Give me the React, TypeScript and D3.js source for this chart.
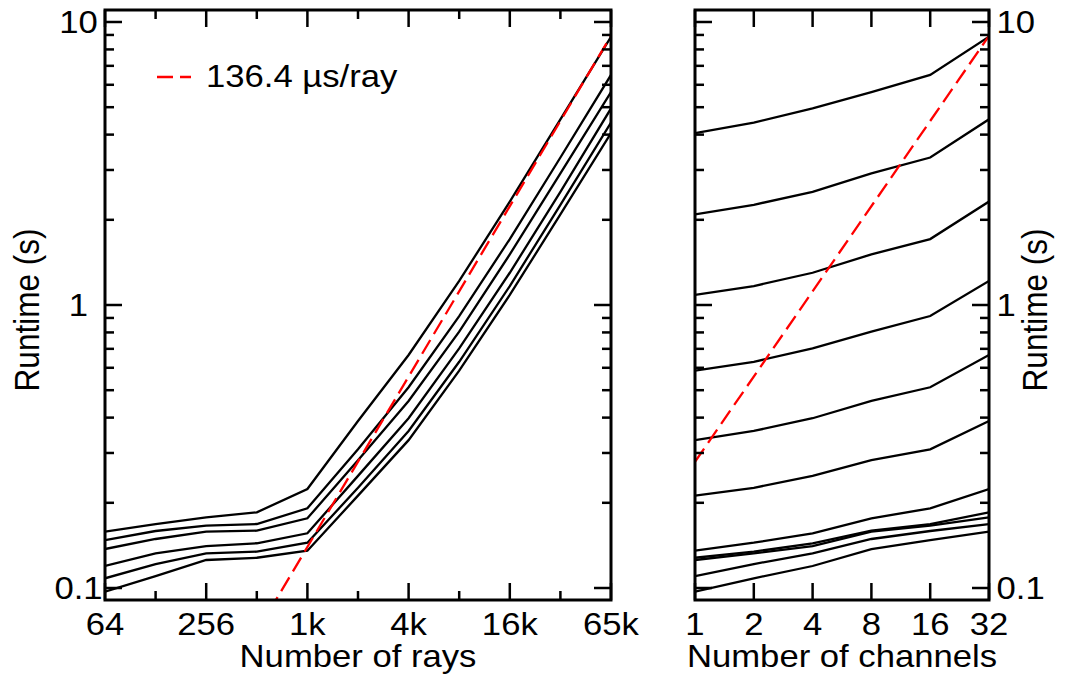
import * as d3 from "d3";

// runtime (s) per ray count (rows) and channel count (columns)
const RAYS = [64, 128, 256, 512, 1024, 2048, 4096, 8192, 16384, 32768, 65536];
const RAY_LABELS: Record<number, string> = { 64: "64", 256: "256", 1024: "1k", 4096: "4k", 16384: "16k", 65536: "65k" };
const CHANNELS = [1, 2, 4, 8, 16, 32];
const RUNTIME = [
  [0.097, 0.1082, 0.1196, 0.1373, 0.1477, 0.1581],
  [0.1102, 0.1215, 0.1326, 0.149, 0.159, 0.1683],
  [0.1256, 0.1326, 0.1407, 0.1581, 0.166, 0.1778],
  [0.1279, 0.1344, 0.1439, 0.1594, 0.1683, 0.1851],
  [0.1355, 0.1446, 0.1561, 0.1763, 0.1912, 0.2238],
  [0.212, 0.226, 0.249, 0.283, 0.309, 0.389],
  [0.333, 0.359, 0.398, 0.458, 0.512, 0.666],
  [0.586, 0.63, 0.703, 0.805, 0.914, 1.216],
  [1.085, 1.167, 1.3, 1.51, 1.71, 2.32],
  [2.09, 2.26, 2.51, 2.92, 3.32, 4.53],
  [4.05, 4.41, 4.95, 5.65, 6.5, 8.87],
];
const Y_MAJOR = [0.1, 1, 10];
const Y_LABELS = ["0.1", "1", "10"];
const FIT_RATE = 136.4e-6; // s per ray
const FIT_LABEL = "136.4 \u00b5s/ray";

const W = 1084;
const H = 676;
const TOP = 10;
const BOTTOM = 600;
const FONT = "'Liberation Sans', Arial, Helvetica, sans-serif";
const FS = 31.5;
const SX = 1.1;

const yScale = d3.scaleLog().domain([0.1, 10]).range([588, 22]);
const xRays = d3.scaleLog().base(2).domain([64, 65536]).range([105, 611]);
const xCh = d3.scaleLog().base(2).domain([1, 32]).range([695, 989]);

const yMinor: number[] = [];
[0.1, 1].forEach((d) => {
  for (let k = 2; k <= 9; k++) yMinor.push(k * d);
});

function Label({ x, y, text, anchor = "middle", rotate = false }: any) {
  return (
    <text
      transform={`translate(${x},${y}) scale(${SX},1)${rotate ? " rotate(-90)" : ""}`}
      textAnchor={anchor}
      fontFamily={FONT}
      fontSize={FS}
      fill="#000"
    >
      {text}
    </text>
  );
}

function YTicks({ x0, x1 }: { x0: number; x1: number }) {
  const out: any[] = [];
  const add = (v: number, len: number, key: string) => {
    const y = yScale(v);
    out.push(<line key={key + "l"} x1={x0} x2={x0 + len} y1={y} y2={y} />);
    out.push(<line key={key + "r"} x1={x1} x2={x1 - len} y1={y} y2={y} />);
  };
  Y_MAJOR.forEach((v, i) => add(v, 17, "M" + i));
  yMinor.forEach((v, i) => add(v, 9, "m" + i));
  return <g stroke="#000" strokeWidth={2.5}>{out}</g>;
}

export default function App() {
  const lineRays = d3
    .line<number>()
    .x((_, i) => xRays(RAYS[i]))
    .y((d) => yScale(d));
  const lineCh = d3
    .line<number>()
    .x((_, i) => xCh(CHANNELS[i]))
    .y((d) => yScale(d));

  const fitLeft = [RAYS[0], RAYS[RAYS.length - 1]];
  const fitRightPerCh = FIT_RATE * RAYS[RAYS.length - 1] / CHANNELS[CHANNELS.length - 1];
  const fitRight = [CHANNELS[0], CHANNELS[CHANNELS.length - 1]];

  const [lx0, lx1] = xRays.range();
  const [rx0, rx1] = xCh.range();

  return (
    <svg width={W} height={H} style={{ position: "absolute", left: 0, top: 0, background: "#fff" }}>
      <defs>
        <clipPath id="clipL">
          <rect x={lx0} y={TOP} width={lx1 - lx0} height={BOTTOM - TOP} />
        </clipPath>
        <clipPath id="clipR">
          <rect x={rx0} y={TOP} width={rx1 - rx0} height={BOTTOM - TOP} />
        </clipPath>
      </defs>

      {/* left panel: runtime vs rays, one line per channel count */}
      <g clipPath="url(#clipL)" fill="none">
        {CHANNELS.map((c, j) => (
          <path key={c} d={lineRays(RUNTIME.map((r) => r[j])) || ""} stroke="#000" strokeWidth={2.3} />
        ))}
        <line
          x1={xRays(fitLeft[0])}
          y1={yScale(FIT_RATE * fitLeft[0])}
          x2={xRays(fitLeft[1])}
          y2={yScale(FIT_RATE * fitLeft[1])}
          stroke="#ff0000"
          strokeWidth={2.3}
          strokeDasharray="16,7"
        />
      </g>
      <g stroke="#000" strokeWidth={2.5}>
        {RAYS.map((r) => {
          const x = xRays(r);
          const len = RAY_LABELS[r] ? 17 : 9;
          return (
            <g key={r}>
              <line x1={x} x2={x} y1={TOP} y2={TOP + len} />
              <line x1={x} x2={x} y1={BOTTOM} y2={BOTTOM - len} />
            </g>
          );
        })}
      </g>
      <YTicks x0={lx0} x1={lx1} />
      <rect x={lx0} y={TOP} width={lx1 - lx0} height={BOTTOM - TOP} fill="none" stroke="#000" strokeWidth={3} />
      {RAYS.filter((r) => RAY_LABELS[r]).map((r) => (
        <Label key={r} x={xRays(r)} y={635} text={RAY_LABELS[r]} />
      ))}
      {Y_MAJOR.map((v, i) => (
        <Label key={v} x={78.5} y={yScale(v) + 11.3} text={Y_LABELS[i]} />
      ))}
      <Label x={(lx0 + lx1) / 2} y={667} text="Number of rays" />
      <Label x={38.5} y={310} text="Runtime (s)" rotate />

      {/* legend */}
      <line x1={157} x2={191} y1={77} y2={77} stroke="#ff0000" strokeWidth={2.3} strokeDasharray="16,7" />
      <Label x={206} y={87} text={FIT_LABEL} anchor="start" />

      {/* right panel: runtime vs channels, one line per ray count */}
      <g clipPath="url(#clipR)" fill="none">
        {RAYS.map((r, i) => (
          <path key={r} d={lineCh(RUNTIME[i]) || ""} stroke="#000" strokeWidth={2.3} />
        ))}
        <line
          x1={xCh(fitRight[0])}
          y1={yScale(fitRightPerCh * fitRight[0])}
          x2={xCh(fitRight[1])}
          y2={yScale(fitRightPerCh * fitRight[1])}
          stroke="#ff0000"
          strokeWidth={2.3}
          strokeDasharray="16,7"
        />
      </g>
      <g stroke="#000" strokeWidth={2.5}>
        {CHANNELS.map((c) => {
          const x = xCh(c);
          return (
            <g key={c}>
              <line x1={x} x2={x} y1={TOP} y2={TOP + 17} />
              <line x1={x} x2={x} y1={BOTTOM} y2={BOTTOM - 17} />
            </g>
          );
        })}
      </g>
      <YTicks x0={rx0} x1={rx1} />
      <rect x={rx0} y={TOP} width={rx1 - rx0} height={BOTTOM - TOP} fill="none" stroke="#000" strokeWidth={3} />
      {CHANNELS.map((c) => (
        <Label key={c} x={xCh(c)} y={635} text={String(c)} />
      ))}
      {Y_MAJOR.map((v, i) => (
        <Label key={v} x={996.5} y={yScale(v) + 11.3} text={Y_LABELS[i]} anchor="start" />
      ))}
      <Label x={(rx0 + rx1) / 2} y={667} text="Number of channels" />
      <Label x={1047} y={310} text="Runtime (s)" rotate />
    </svg>
  );
}
